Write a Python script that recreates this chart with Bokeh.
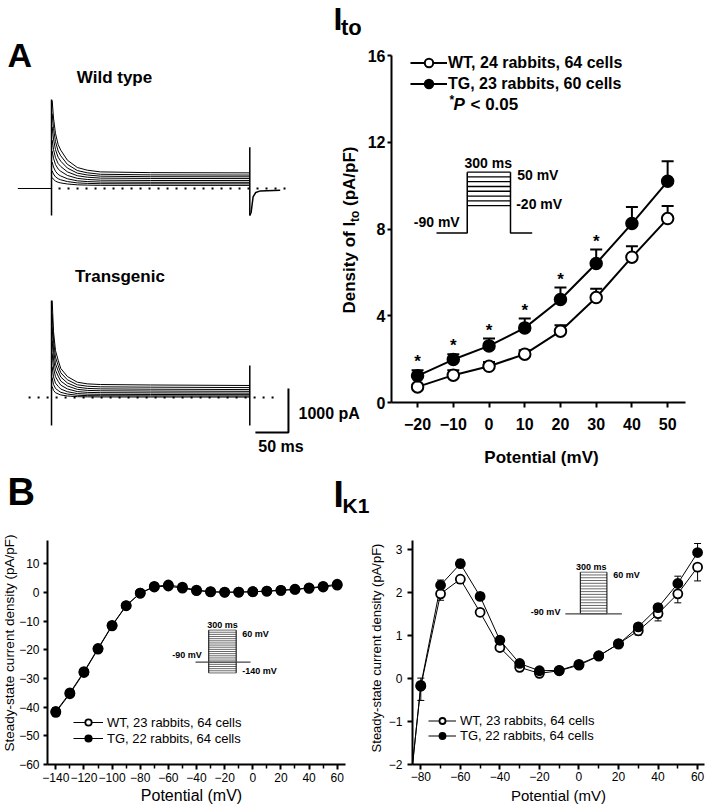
import math
from bokeh.plotting import figure
from bokeh.layouts import row, column
from bokeh.models import (ColumnDataSource, Label, Legend, LegendItem, Whisker,
                          TeeHead, FixedTicker, GridBox, Range1d)
from bokeh.core.properties import value
from bokeh.embed import file_html
from bokeh.resources import INLINE

FONT = "Liberation Sans"

# ---------------- Panel A: raw I_to current traces (pA vs ms) ----------------
trace_time = [1, 3, 6, 10, 14, 24, 39, 54, 74, 150, 300]
wt_traces = [
    [2000, 1600, 1250, 1000, 870, 643, 477, 416, 377, 360, 355],
    [1700, 1361, 1064, 852, 742, 549, 408, 357, 323, 309, 305],
    [1400, 1124, 882, 710, 620, 464, 349, 307, 280, 268, 265],
    [1100, 887, 701, 568, 499, 378, 290, 257, 236, 228, 225],
    [850, 687, 544, 443, 390, 297, 230, 205, 189, 182, 180],
    [600, 488, 390, 320, 284, 221, 174, 157, 146, 141, 140],
    [400, 328, 265, 221, 197, 157, 127, 116, 109, 106, 105],
    [250, 206, 168, 141, 126, 102, 83, 77, 72, 71, 70],
]
tg_traces = [
    [2200, 1500, 1068, 850, 660, 477, 348, 310, 295, 285, 273],
    [1900, 1292, 917, 726, 562, 403, 290, 257, 243, 235, 225],
    [1600, 1085, 766, 605, 465, 331, 235, 207, 196, 189, 180],
    [1300, 879, 619, 487, 373, 263, 185, 162, 153, 147, 140],
    [1000, 673, 472, 369, 281, 195, 135, 117, 110, 105, 100],
    [700, 469, 327, 255, 193, 132, 90, 77, 72, 69, 65],
    [450, 299, 206, 159, 118, 79, 51, 43, 40, 37, 35],
    [250, 163, 109, 82, 58, 35, 19, 15, 13, 11, 10],
]
wt_hold_time = [-51, 0]
wt_hold_current = [0, 0]
wt_spike_time = [0, 300]
wt_spike_top = [2023, 939]
wt_spike_bottom = [-614, -614]
wt_tail_time = [300, 302, 305, 309, 316, 346]
wt_tail_current = [-614, -545, -190, -91, -55, -40]
tg_spike_time = [0, 300]
tg_spike_top = [2205, 727]
tg_spike_bottom = [-636, -636]
scale_bar_ms = 50
scale_bar_pA = 1000

# ---------------- Panel A: I_to density vs potential ----------------
ito_potential = [-20, -10, 0, 10, 20, 30, 40, 50]
ito_wt = [0.72, 1.26, 1.67, 2.23, 3.29, 4.84, 6.70, 8.48]
ito_wt_sem = [0.10, 0.23, 0.20, 0.18, 0.27, 0.40, 0.50, 0.58]
ito_tg = [1.23, 1.98, 2.61, 3.44, 4.75, 6.41, 8.25, 10.20]
ito_tg_sem = [0.26, 0.25, 0.34, 0.43, 0.55, 0.64, 0.77, 0.92]
ito_significant = [True, True, True, True, True, True, False, False]
ito_xticks = [-20, -10, 0, 10, 20, 30, 40, 50]
ito_yticks = [0, 4, 8, 12, 16]

# ---------------- Panel B: I_K1 steady-state current density ----------------
ik1_potential = [-140, -130, -120, -110, -100, -90, -80, -70, -60, -50, -40,
                 -30, -20, -10, 0, 10, 20, 30, 40, 50, 60]
ik1_wt = [-41.5, -35.0, -27.6, -19.5, -11.4, -4.5, -0.18, 1.97, 2.31, 1.54, 0.72,
          0.26, 0.12, 0.18, 0.31, 0.52, 0.81, 1.11, 1.51, 1.97, 2.59]
ik1_wt_sem = [1.6, 1.4, 1.2, 1.0, 0.8, 0.5, 0.33, 0.15, 0.10, 0.08, 0.06,
              0.05, 0.04, 0.04, 0.04, 0.05, 0.06, 0.10, 0.17, 0.21, 0.32]
ik1_tg = [-41.8, -35.3, -27.9, -19.7, -11.6, -4.6, -0.16, 2.17, 2.67, 1.91, 0.89,
          0.35, 0.18, 0.19, 0.33, 0.53, 0.80, 1.20, 1.65, 2.21, 2.93]
ik1_tg_sem = [1.7, 1.5, 1.3, 1.1, 0.9, 0.6, 0.17, 0.12, 0.10, 0.08, 0.06,
              0.05, 0.04, 0.04, 0.04, 0.05, 0.06, 0.08, 0.08, 0.17, 0.21]
ik1_full_xticks = [-140, -120, -100, -80, -60, -40, -20, 0, 20, 40, 60]
ik1_full_minor = [-130, -110, -90, -70, -50, -30, -10, 10, 30, 50]
ik1_full_yticks = [-60, -50, -40, -30, -20, -10, 0, 10]
ik1_zoom_xticks = [-80, -60, -40, -20, 0, 20, 40, 60]
ik1_zoom_minor = [-70, -50, -30, -10, 10, 30, 50]
ik1_zoom_yticks = [-2, -1, 0, 1, 2, 3]


def base_fig(width, height, xr, yr, **kw):
    p = figure(width=width, height=height, x_range=xr, y_range=yr,
               output_backend="svg", toolbar_location=None, **kw)
    p.outline_line_color = None
    p.grid.visible = False
    return p


def style_axes(p, size, bold, lw, xtick, ytick, xstand, ystand):
    for ax, tick, stand in ((p.xaxis, xtick, xstand), (p.yaxis, ytick, ystand)):
        ax.axis_line_color = "black"
        ax.axis_line_width = lw
        ax.major_tick_line_color = "black"
        ax.major_tick_line_width = lw
        ax.major_tick_in = 0
        ax.major_tick_out = tick
        ax.minor_tick_line_color = "black"
        ax.minor_tick_line_width = lw
        ax.minor_tick_in = 0
        ax.minor_tick_out = tick
        ax.major_label_standoff = stand
        ax.major_label_text_font = FONT
        ax.major_label_text_font_size = size
        ax.major_label_text_font_style = "bold" if bold else "normal"
        ax.major_label_text_color = "black"


def lab(p, x, y, text, size, style="normal", align="left", angle=0.0, kx=1.0, ky=1.0):
    # x, y give the intended baseline position; the renderer draws the
    # alphabetic baseline about 0.36 em too low, so it is compensated here
    d = 0.36 * size
    if angle == 0:
        y = y + d / ky
    else:
        x = x - d / kx
    p.add_layout(Label(x=x, y=y, text=text, text_font=FONT,
                       text_font_size=f"{size}px", text_font_style=style,
                       text_align=align, text_baseline="alphabetic",
                       angle=angle, text_color="black"))


NOAX = dict(x_axis_location=None, y_axis_location=None, min_border=0,
            min_border_left=0, min_border_right=0, min_border_top=0,
            min_border_bottom=0)

# ================= Wild-type traces =================
f_wt = base_fig(298, 245, (-77.2, 373.7), (-1296, 4273), **NOAX)
f_wt.line([10.6, 360], [0, 0], line_color="black", line_width=2, line_dash="2 7")
f_wt.line(wt_hold_time, wt_hold_current, line_color="black", line_width=1)
f_wt.multi_line([trace_time] * len(wt_traces), wt_traces, line_color="black", line_width=1)
f_wt.segment(wt_spike_time, wt_spike_bottom, wt_spike_time, wt_spike_top,
             line_color="black", line_width=1.5)
f_wt.line(wt_tail_time, wt_tail_current, line_color="black", line_width=1.5)

# ================= Transgenic traces =================
f_tg = base_fig(298, 225, (-77.2, 373.7), (-1659, 3455), **NOAX)
f_tg.line([-34.7, 346.5], [0, 0], line_color="black", line_width=2, line_dash="2 7")
f_tg.multi_line([trace_time] * len(tg_traces), tg_traces, line_color="black", line_width=1)
f_tg.segment(tg_spike_time, tg_spike_bottom, tg_spike_time, tg_spike_top,
             line_color="black", line_width=1.5)
bar_x = 358.5
bar_y = -796
f_tg.line([bar_x - scale_bar_ms, bar_x, bar_x], [bar_y, bar_y, bar_y + scale_bar_pA],
          line_color="black", line_width=2)

# ================= I_to I-V =================
IKX, IKY = 3.572, 21.686
f_ito = base_fig(411, 470, (-27.3, 55.0), (0, 16),
                 min_border_left=93, min_border_right=24, min_border_top=55,
                 min_border_bottom=68)
f_ito.xaxis.ticker = FixedTicker(ticks=ito_xticks)
f_ito.yaxis.ticker = FixedTicker(ticks=ito_yticks)
style_axes(f_ito, "16px", True, 2, 5, 4, 10, 2)

src_wt = ColumnDataSource(dict(x=ito_potential, y=ito_wt,
                               up=[a + b for a, b in zip(ito_wt, ito_wt_sem)]))
src_tg = ColumnDataSource(dict(x=ito_potential, y=ito_tg,
                               up=[a + b for a, b in zip(ito_tg, ito_tg_sem)]))
for s in (src_wt, src_tg):
    f_ito.add_layout(Whisker(source=s, base="x", lower="y", upper="up",
                             dimension="height", line_width=2, line_color="black",
                             upper_head=TeeHead(size=12, line_width=2, line_color="black"),
                             lower_head=None, level="underlay"))
l_wt = f_ito.line("x", "y", source=src_wt, line_color="black", line_width=2)
l_tg = f_ito.line("x", "y", source=src_tg, line_color="black", line_width=2)
m_wt = f_ito.scatter("x", "y", source=src_wt, marker="circle", size=11.5,
                     fill_color="white", line_color="black", line_width=2)
m_tg = f_ito.scatter("x", "y", source=src_tg, marker="circle", size=11.5,
                     fill_color="black", line_color="black", line_width=2)
sig_x = [x for x, s in zip(ito_potential, ito_significant) if s]
sig_y = [a + b + 0.1 + 0.36 * 17 / IKY
         for a, b, s in zip(ito_tg, ito_tg_sem, ito_significant) if s]
f_ito.text(sig_x, sig_y, text=["*"] * len(sig_x), text_font=value(FONT),
           text_font_size="17px", text_font_style="bold", text_align="center",
           text_baseline="alphabetic", text_color="black")

leg = Legend(items=[LegendItem(label="WT, 24 rabbits, 64 cells", renderers=[l_wt, m_wt]),
                    LegendItem(label="TG, 23 rabbits, 60 cells", renderers=[l_tg, m_tg])],
             location=(19, 308), orientation="vertical", glyph_width=37,
             glyph_height=21, label_height=21, spacing=0, padding=0, margin=0,
             label_standoff=1, border_line_color=None, background_fill_alpha=0,
             label_text_font=FONT, label_text_font_size="16px",
             label_text_font_style="bold", label_text_color="black")
f_ito.add_layout(leg)
lab(f_ito, -11.06, 13.74, "*", 12, "bold", ky=IKY)
lab(f_ito, -9.94, 13.46, "P", 17, "bold italic", ky=IKY)
lab(f_ito, -5.18, 13.46, "< 0.05", 17, "bold", ky=IKY)

# voltage-protocol inset (I_to)
ins_lo, ins_hi = 9.08, 10.62
ins_x0, ins_x1 = -6.1, 6.01
ins_base = 7.82
lv = [ins_lo + (v - ito_potential[0]) / (ito_potential[-1] - ito_potential[0]) * (ins_hi - ins_lo)
      for v in ito_potential]
f_ito.segment([ins_x0] * len(lv), lv, [ins_x1] * len(lv), lv, line_color="black", line_width=1.3)
f_ito.line([-14.7, ins_x0, ins_x0], [ins_base, ins_base, ins_hi], line_color="black", line_width=1.5)
f_ito.line([ins_x1, ins_x1, 12.09], [ins_hi, ins_base, ins_base], line_color="black", line_width=1.5)
lab(f_ito, -0.23, 10.82, "300 ms", 14, "bold", "center", ky=IKY)
lab(f_ito, 7.89, 10.24, "50 mV", 14, "bold", ky=IKY)
lab(f_ito, 7.61, 8.93, "-20 mV", 14, "bold", ky=IKY)
lab(f_ito, -21.06, 8.08, "-90 mV", 14, "bold", ky=IKY)


# ================= I_K1 =================
def ik1_series(p, xs, wt, wts, tg, tgs, msize, leg_loc, gw, gh):
    s_wt = ColumnDataSource(dict(x=xs, y=wt, lo=[a - b for a, b in zip(wt, wts)]))
    s_tg = ColumnDataSource(dict(x=xs, y=tg, up=[a + b for a, b in zip(tg, tgs)]))
    p.add_layout(Whisker(source=s_wt, base="x", lower="lo", upper="y", dimension="height",
                         line_width=1, line_color="black", upper_head=None,
                         lower_head=TeeHead(size=7, line_width=1, line_color="black"),
                         level="underlay"))
    p.add_layout(Whisker(source=s_tg, base="x", lower="y", upper="up", dimension="height",
                         line_width=1, line_color="black", lower_head=None,
                         upper_head=TeeHead(size=7, line_width=1, line_color="black"),
                         level="underlay"))
    lw_ = p.line("x", "y", source=s_wt, line_color="black", line_width=1)
    lt_ = p.line("x", "y", source=s_tg, line_color="black", line_width=1)
    mw_ = p.scatter("x", "y", source=s_wt, marker="circle", size=msize,
                    fill_color="white", line_color="black", line_width=1.8)
    mt_ = p.scatter("x", "y", source=s_tg, marker="circle", size=msize,
                    fill_color="black", line_color="black", line_width=1.8)
    lg = Legend(items=[LegendItem(label="WT, 23 rabbits, 64 cells", renderers=[lw_, mw_]),
                       LegendItem(label="TG, 22 rabbits, 64 cells", renderers=[lt_, mt_])],
                location=leg_loc, glyph_width=gw, glyph_height=gh, label_height=gh,
                spacing=0, padding=0, margin=0, label_standoff=4,
                border_line_color=None, background_fill_alpha=0,
                label_text_font=FONT, label_text_font_size="13px",
                label_text_color="black")
    p.add_layout(lg)


B1Y = 2.877
f_b1 = base_fig(369, 337, (-145.9, 65.9), (-60, 18.2),
                min_border_left=47, min_border_right=24, min_border_top=70,
                min_border_bottom=42)
f_b1.xaxis.ticker = FixedTicker(ticks=ik1_full_xticks, minor_ticks=ik1_full_minor)
f_b1.yaxis.ticker = FixedTicker(ticks=ik1_full_yticks)
style_axes(f_b1, "12px", False, 2, 5, 4, 3, 4)
f_b1.xaxis.minor_tick_out = 4
f_b1.xaxis.minor_tick_line_width = 1.5
ik1_series(f_b1, ik1_potential, ik1_wt, ik1_wt_sem, ik1_tg, ik1_tg_sem, 9, (26, 18), 30, 16)

b1_lo, b1_hi = -28.03, -13.08
b1_x0, b1_x1 = -31.3, -11.8
b1_lv = [b1_lo + (v - ik1_potential[0]) / (ik1_potential[-1] - ik1_potential[0]) * (b1_hi - b1_lo)
         for v in ik1_potential]
f_b1.segment([b1_x0] * len(b1_lv), b1_lv, [b1_x1] * len(b1_lv), b1_lv,
             line_color="#444444", line_width=0.8)
f_b1.segment([b1_x0, b1_x1], [b1_lo, b1_lo], [b1_x0, b1_x1], [b1_hi, b1_hi],
             line_color="black", line_width=1)
b1_hold = b1_lv[ik1_potential.index(-90)]
f_b1.line([-40.7, -1.6], [b1_hold, b1_hold], line_color="#444444", line_width=1.2)
lab(f_b1, -21.5, -12.3, "300 ms", 9, "bold", "center", ky=B1Y)
lab(f_b1, -7.5, -15.4, "60 mV", 9, "bold", ky=B1Y)
lab(f_b1, -7.5, -28.5, "-140 mV", 9, "bold", ky=B1Y)
lab(f_b1, -57.3, -22.8, "-90 mV", 9, "bold", ky=B1Y)

B2Y = 43.0
f_b2 = base_fig(340, 337, (-84.2, 63.5), (-2, 3.21),
                min_border_left=43, min_border_right=5, min_border_top=70,
                min_border_bottom=43)
f_b2.xaxis.ticker = FixedTicker(ticks=ik1_zoom_xticks, minor_ticks=ik1_zoom_minor)
f_b2.yaxis.ticker = FixedTicker(ticks=ik1_zoom_yticks)
style_axes(f_b2, "12px", False, 2, 5, 5, 2, 5)
f_b2.xaxis.minor_tick_out = 4
f_b2.xaxis.minor_tick_line_width = 1.5
keep = [i for i, v in enumerate(ik1_potential) if v >= -90]
ik1_series(f_b2, [ik1_potential[i] for i in keep], [ik1_wt[i] for i in keep],
           [ik1_wt_sem[i] for i in keep], [ik1_tg[i] for i in keep],
           [ik1_tg_sem[i] for i in keep], 9, (16, 21), 28, 15)
zoom_pot = [v for v in ik1_potential if v >= -90]
b2_lo, b2_hi = 1.505, 2.473
b2_x0, b2_x1 = 0.69, 14.15
b2_lv = [b2_lo + (v - zoom_pot[0]) / (zoom_pot[-1] - zoom_pot[0]) * (b2_hi - b2_lo)
         for v in zoom_pot]
f_b2.segment([b2_x0] * len(b2_lv), b2_lv, [b2_x1] * len(b2_lv), b2_lv,
             line_color="#444444", line_width=0.8)
f_b2.segment([b2_x0, b2_x1], [b2_lo, b2_lo], [b2_x0, b2_x1], [b2_hi, b2_hi],
             line_color="black", line_width=1)
f_b2.line([-6.9, 21.7], [b2_lo, b2_lo], line_color="#444444", line_width=1.2)
lab(f_b2, 6.2, 2.51, "300 ms", 9, "bold", "center", ky=B2Y)
lab(f_b2, 17.3, 2.34, "60 mV", 9, "bold", ky=B2Y)
lab(f_b2, -9.4, 1.47, "-90 mV", 9, "bold", "right", ky=B2Y)

# ================= transparent text layer over the whole page =================
W, H = 709, 807
ov = figure(width=W, height=H, x_range=Range1d(0, W), y_range=Range1d(H, 0),
            output_backend="svg", toolbar_location=None, **NOAX)
ov.outline_line_color = None
ov.grid.visible = False
ov.background_fill_alpha = 0
ov.border_fill_alpha = 0
RT = math.pi / 2
OV = dict(kx=1.0, ky=-1.0)
lab(ov, 7, 67, "A", 34, "bold", **OV)
lab(ov, 114, 83, "Wild type", 17, "bold", "center", **OV)
lab(ov, 119.5, 282, "Transgenic", 17, "bold", "center", **OV)
lab(ov, 280.5, 452, f"{scale_bar_ms} ms", 16, "bold", "center", **OV)
lab(ov, 298, 419, f"{scale_bar_pA} pA", 16, "bold", **OV)
lab(ov, 333, 30, "I", 32, "bold", **OV)
lab(ov, 340.5, 35, "to", 22, "bold", **OV)
lab(ov, 541, 463, "Potential (mV)", 17, "bold", "center", **OV)
lab(ov, 355, 313, "Density of I", 17, "bold", "left", RT, **OV)
lab(ov, 359, 221.4, "to", 12, "bold", "left", RT, **OV)
lab(ov, 355, 205.5, "(pA/pF)", 17, "bold", "left", RT, **OV)
lab(ov, 7, 505, "B", 38, "bold", **OV)
lab(ov, 333, 507, "I", 37, "bold", **OV)
lab(ov, 342, 512.5, "K1", 21, "bold", **OV)
lab(ov, 191, 801, "Potential (mV)", 16, "normal", "center", **OV)
lab(ov, 14, 642.5, "Steady-state current density (pA/pF)", 13.5, "normal", "center", RT, **OV)
lab(ov, 558, 800, "Potential (mV)", 15, "normal", "center", **OV)
lab(ov, 381, 647.5, "Steady-state current density (pA/pF)", 13, "normal", "center", RT, **OV)

main = column(row(column(f_wt, f_tg), f_ito), row(f_b1, f_b2))
page = GridBox(children=[(main, 0, 0), (ov, 0, 0)])
open("out.html", "w").write(file_html(page, INLINE))
